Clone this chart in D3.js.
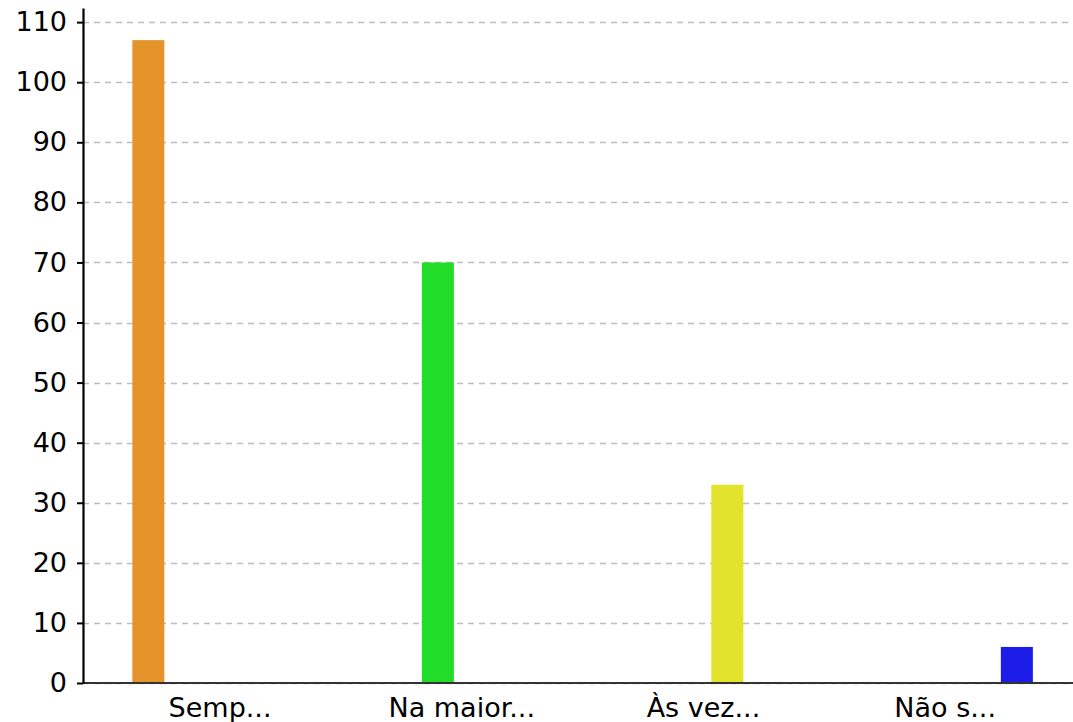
<!DOCTYPE html>
<html>
<head>
<meta charset="utf-8">
<script src="https://cdn.jsdelivr.net/npm/d3@7"></script>
<style>
  html, body { margin: 0; padding: 0; background: #fff; }
  svg { display: block; font-family: "DejaVu Sans", sans-serif; }
</style>
</head>
<body>
<div id="chart"></div>
<script>
// data
const categories = ['Semp...', 'Na maior...', 'Às vez...', 'Não s...'];
const values = [107, 70, 33, 6];
const colors = ['#e5942b', '#22dd27', '#e1e42a', '#1c1ce8'];
const yTicks = [0, 10, 20, 30, 40, 50, 60, 70, 80, 90, 100, 110];

const width = 1073;
const height = 722;
const axisX = 83;
const baseY = 683;
const topY = 8;

const svg = d3.select('#chart')
  .append('svg')
  .attr('width', width)
  .attr('height', height);

const y = d3.scaleLinear()
  .domain([0, d3.max(values) * 1.05])
  .range([baseY, topY]);

// one band per category, one slot per series inside each band
const x0 = d3.scaleBand()
  .domain(categories)
  .range([99.2, 1066])
  .padding(0);

const x1 = d3.scaleBand()
  .domain(d3.range(categories.length))
  .range([0, x0.bandwidth()])
  .paddingInner(0.33)
  .paddingOuter(0.693);

// grid lines
svg.append('g')
  .selectAll('line')
  .data(yTicks)
  .enter()
  .append('line')
  .attr('x1', axisX)
  .attr('x2', width)
  .attr('y1', d => Math.round(y(d)) + 0.5)
  .attr('y2', d => Math.round(y(d)) + 0.5)
  .attr('stroke', '#bdbdbd')
  .attr('stroke-width', 1.3)
  .attr('stroke-dasharray', '6,5');

// bars
svg.append('g')
  .selectAll('rect')
  .data(values)
  .enter()
  .append('rect')
  .attr('x', (d, i) => x0(categories[i]) + x1(i))
  .attr('y', d => y(d))
  .attr('width', x1.bandwidth())
  .attr('height', d => baseY - y(d))
  .attr('fill', (d, i) => colors[i]);

// x axis
const xAxis = svg.append('g')
  .attr('transform', `translate(0,${baseY})`)
  .call(d3.axisBottom(x0).tickSize(0).tickPadding(15));
xAxis.select('.domain').remove();
xAxis.selectAll('text')
  .attr('fill', '#000')
  .style('font-size', '27px')
  .style('font-family', '"DejaVu Sans", sans-serif');

svg.append('line')
  .attr('x1', axisX)
  .attr('x2', width)
  .attr('y1', baseY)
  .attr('y2', baseY)
  .attr('stroke', '#333')
  .attr('stroke-width', 2);

// y axis
const yAxis = svg.append('g')
  .attr('transform', `translate(${axisX},0)`)
  .call(d3.axisLeft(y).tickValues(yTicks).tickSize(6).tickPadding(10).tickSizeOuter(0));
yAxis.select('.domain')
  .attr('stroke', '#000')
  .attr('stroke-width', 2.2);
yAxis.selectAll('.tick line')
  .attr('stroke', '#000')
  .attr('stroke-width', 2);
yAxis.selectAll('text')
  .attr('fill', '#000')
  .style('font-size', '27px')
  .style('font-family', '"DejaVu Sans", sans-serif');
</script>
</body>
</html>
